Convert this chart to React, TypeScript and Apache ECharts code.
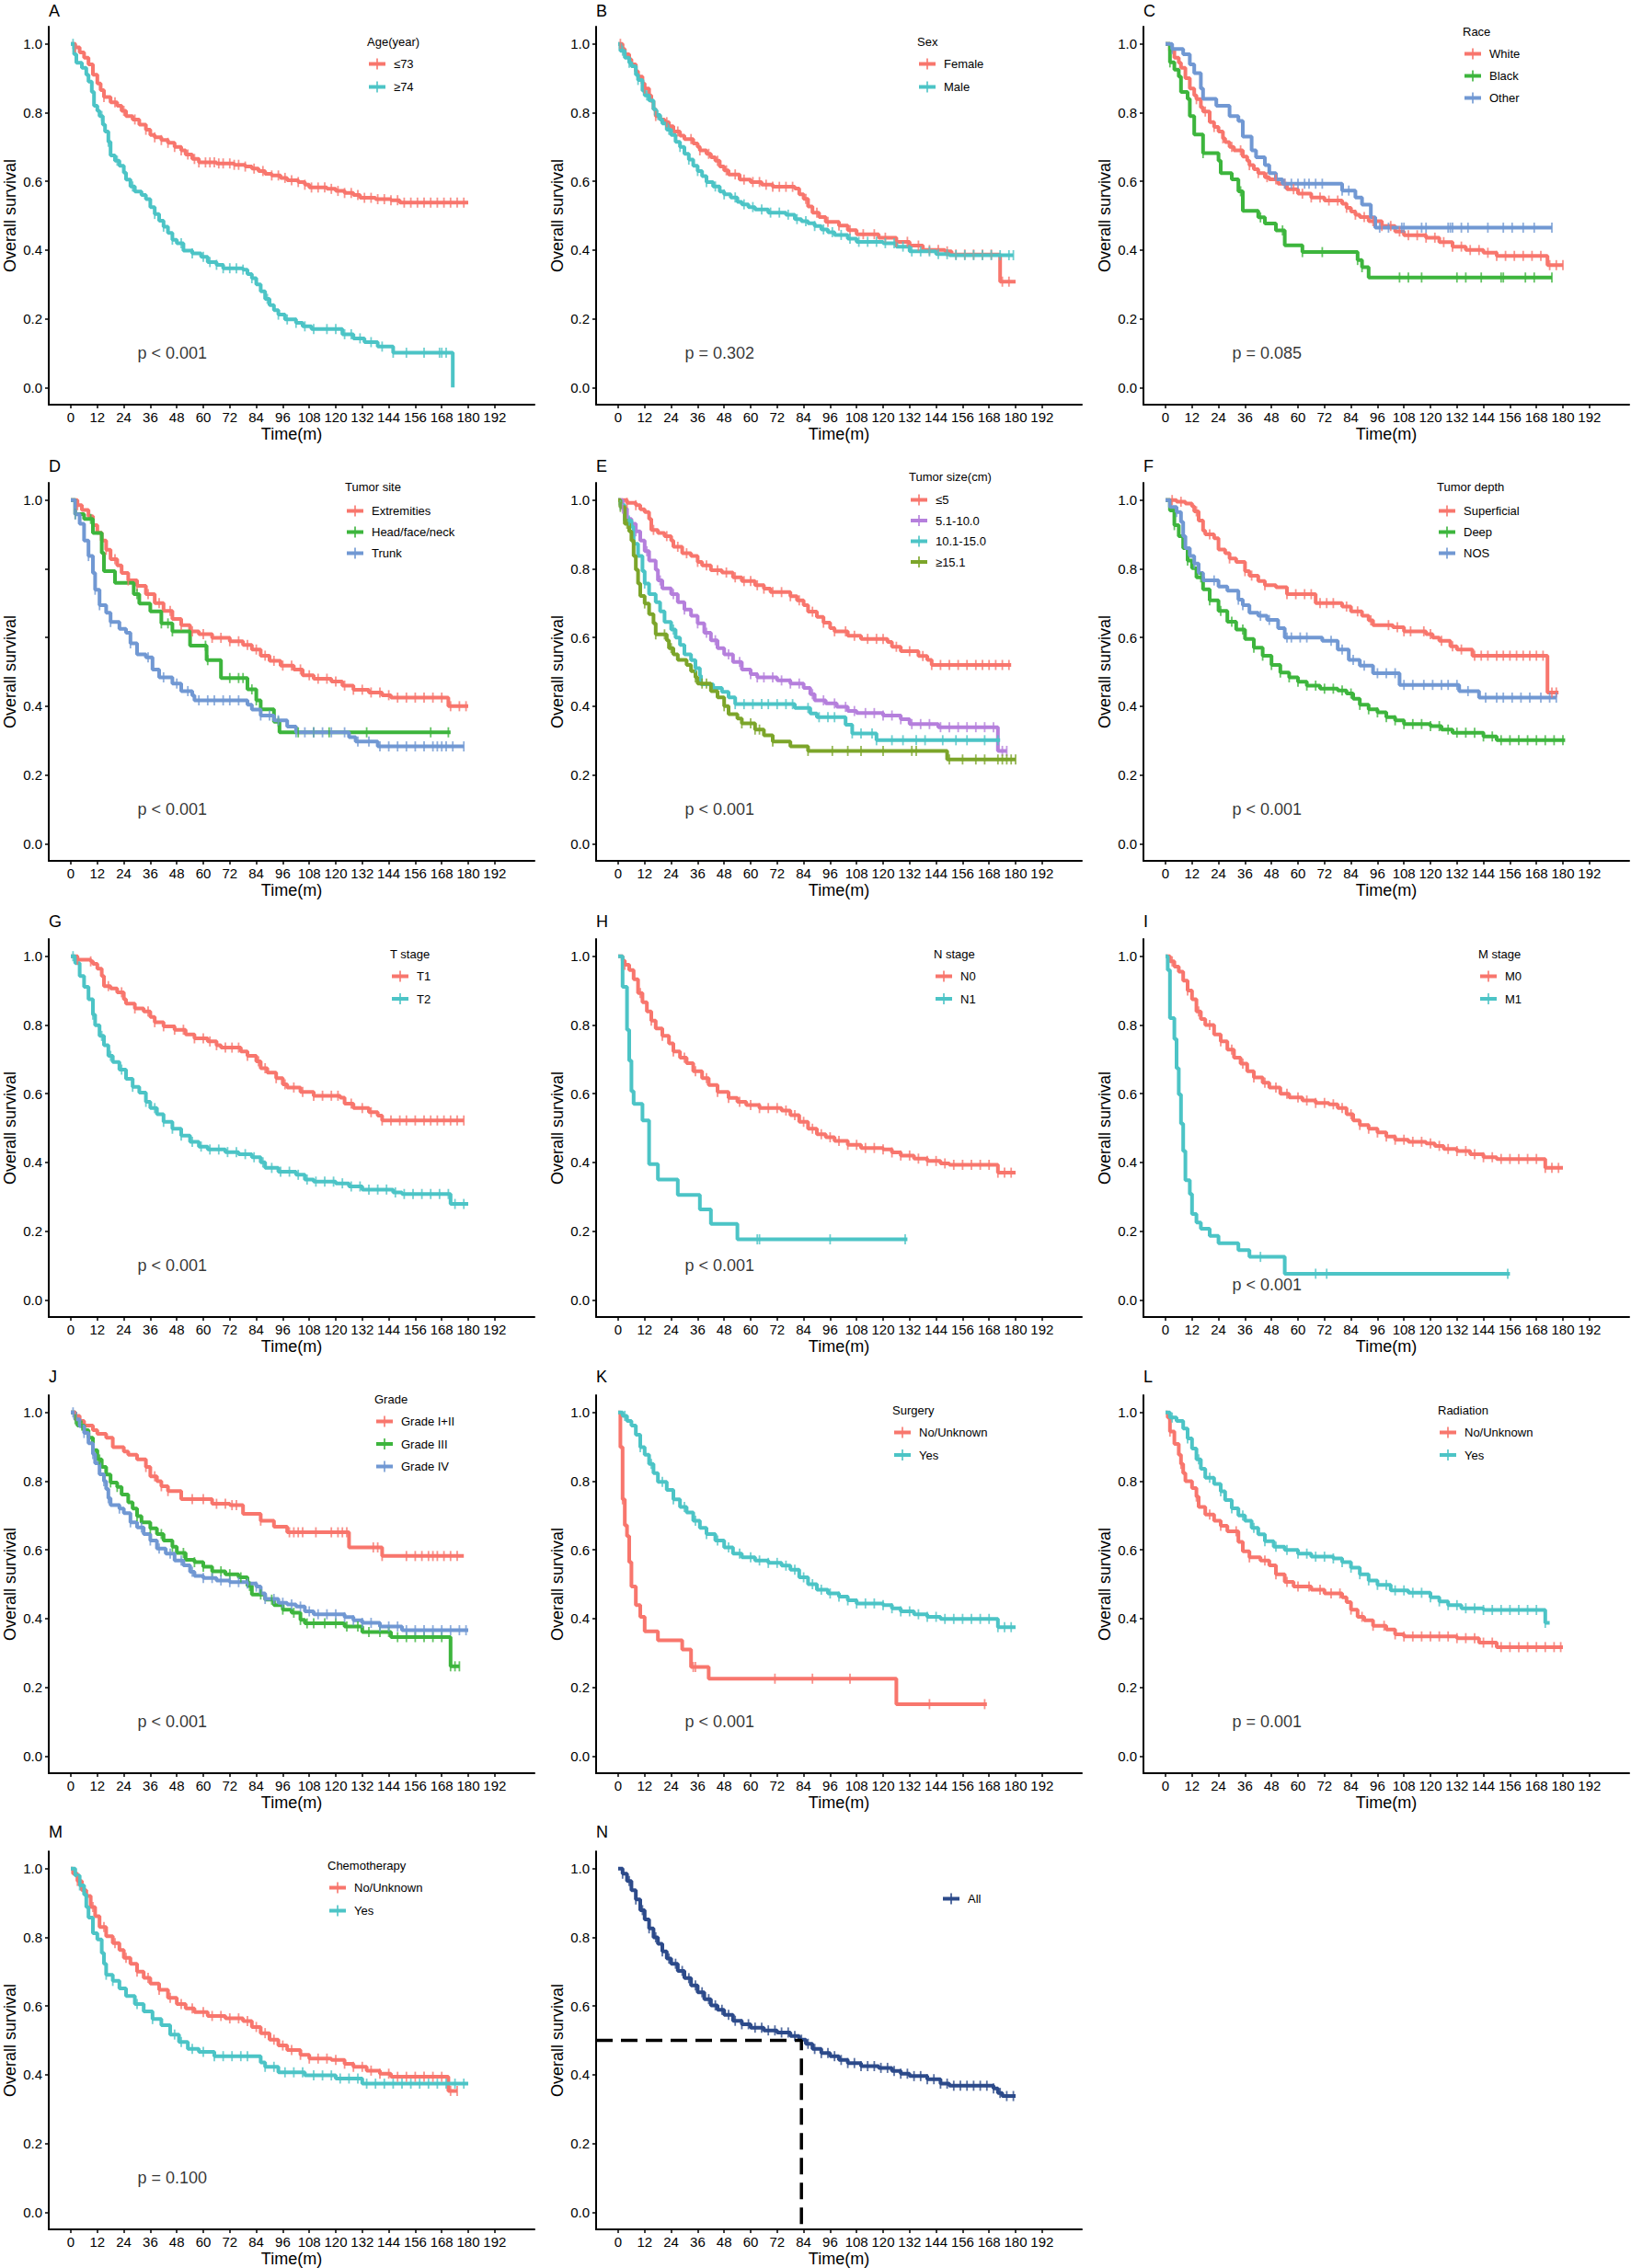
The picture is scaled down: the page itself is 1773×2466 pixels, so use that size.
import React, { useEffect, useRef } from "react";
import * as echarts from "echarts";

type Pt = [number, number];

// ---------- axis ticks ----------
const X_TICKS = [0, 12, 24, 36, 48, 60, 72, 84, 96, 108, 120, 132, 144, 156, 168, 180, 192];
const Y_TICKS = [0, 0.2, 0.4, 0.6, 0.8, 1.0];
const Y_TICKS_D = [0, 0.2, 0.4, 1.0];

// ---------- A: Age ----------
const ageLE73: Pt[] = [[0,1],[2,0.99],[4,0.975],[6,0.96],[8,0.94],[10,0.91],[12,0.885],[13.5,0.865],[15,0.845],[18,0.83],[21,0.82],[23,0.805],[25,0.79],[28,0.78],[31,0.765],[34,0.75],[36,0.735],[38,0.728],[41,0.72],[44,0.712],[47,0.7],[50,0.69],[52,0.678],[55,0.665],[58,0.655],[66,0.652],[74,0.648],[79,0.643],[82,0.637],[85,0.63],[88,0.622],[91,0.617],[95,0.61],[98,0.603],[103,0.598],[106,0.59],[108,0.582],[116,0.578],[120,0.572],[124,0.566],[128,0.56],[131,0.552],[138,0.548],[145,0.545],[149,0.538],[180,0.538]];
const ageGE74: Pt[] = [[0,1],[1.5,0.97],[2.5,0.945],[5,0.93],[7,0.91],[8,0.89],[9.5,0.86],[10.5,0.82],[12,0.805],[13,0.79],[14.5,0.765],[15.5,0.745],[17,0.715],[18,0.675],[20,0.66],[22,0.645],[24,0.625],[25,0.605],[27,0.585],[29,0.57],[32,0.56],[34,0.548],[36,0.525],[38,0.505],[40,0.485],[42,0.468],[44,0.45],[46,0.43],[48,0.42],[51,0.398],[55,0.39],[59,0.38],[62,0.365],[66,0.357],[69,0.347],[78,0.343],[80,0.33],[82,0.318],[84,0.3],[86,0.28],[88,0.258],[90,0.24],[92,0.225],[94,0.212],[97,0.198],[102,0.188],[105,0.178],[109,0.17],[123,0.155],[128,0.143],[133,0.132],[139,0.119],[146,0.101],[173,0]];
const censorAgeLE73 = [2,15,20,24,29,34,38,41,44,47,50,53,56,58,61,63,65,67,69,72,74,76,79,83,87,91,94,97,100,103,106,109,112,115,118,121,124,127,130,133,136,139,142,145,148,151,154,157,160,163,166,169,172,175,178];
const censorAgeGE74 = [1,14,17,21,28,38,42,46,50,55,60,63,66,69,72,75,78,82,89,94,98,102,106,110,116,120,124,127,131,136,141,146,152,160,167,168,170];

// ---------- B: Sex ----------
const sexFemale: Pt[] = [[0,1],[2,0.985],[3,0.97],[5,0.955],[6,0.94],[8,0.92],[9,0.905],[11,0.885],[12,0.87],[14,0.85],[15,0.833],[16,0.81],[17,0.79],[19,0.78],[21,0.772],[23,0.76],[25,0.745],[28,0.733],[30,0.723],[34,0.71],[36,0.7],[37,0.69],[40,0.68],[42,0.67],[44,0.66],[46,0.643],[48,0.632],[50,0.62],[55,0.605],[60,0.598],[65,0.59],[70,0.584],[80,0.579],[82,0.5625],[84,0.549],[86,0.527],[88,0.509],[91,0.496],[94,0.482],[100,0.471],[104,0.458],[108,0.446],[118,0.436],[126,0.424],[132,0.413],[138,0.4],[148,0.396],[151,0.387],[173,0.308],[180,0.308]];
const sexMale: Pt[] = [[0,1],[1,0.98],[3,0.96],[5,0.945],[6,0.935],[8,0.91],[9,0.895],[11,0.864],[12,0.85],[14,0.835],[16,0.81],[17,0.793],[19,0.78],[20,0.768],[22,0.75],[24,0.735],[26,0.715],[28,0.7],[30,0.68],[32,0.663],[34,0.645],[36,0.63],[38,0.615],[40,0.598],[43,0.585],[46,0.57],[48,0.562],[51,0.553],[54,0.54],[56,0.533],[59,0.525],[62,0.518],[68,0.509],[76,0.503],[80,0.49],[83,0.484],[86,0.478],[89,0.47],[92,0.46],[95,0.452],[98,0.444],[104,0.433],[108,0.424],[120,0.42],[126,0.41],[132,0.396],[144,0.388],[150,0.385],[179,0.385]];
const censorFemale = [1,12,17,22,27,33,37,41,45,49,53,57,61,64,67,70,73,76,79,85,90,95,100,105,111,116,121,126,131,136,141,145,149,153,157,161,165,169,174,177];
const censorMale = [2,5,9,13,18,23,28,32,36,40,44,48,53,57,61,65,69,73,77,81,85,89,93,97,101,105,109,113,117,121,125,129,133,137,141,145,149,153,157,161,165,169,173,177,179];

// ---------- C: Race ----------
const raceWhite: Pt[] = [[0,1],[2,0.98],[4,0.96],[6,0.945],[7,0.93],[9,0.9],[11,0.87],[13,0.85],[14,0.839],[16,0.815],[17,0.803],[20,0.772],[22,0.758],[24,0.745],[26,0.725],[27,0.714],[29,0.7],[31,0.69],[35,0.672],[37,0.66],[38,0.647],[40,0.635],[42,0.624],[45,0.612],[47,0.606],[51,0.593],[55,0.577],[60,0.564],[66,0.553],[72,0.544],[80,0.535],[82,0.523],[84,0.512],[86,0.503],[88,0.496],[92,0.484],[98,0.47],[104,0.454],[108,0.443],[118,0.436],[124,0.423],[130,0.41],[136,0.4],[144,0.392],[150,0.383],[173,0.356],[180,0.356]];
const raceBlack: Pt[] = [[0,1],[2,0.946],[4,0.925],[6,0.905],[7,0.86],[10,0.84],[11,0.79],[13,0.736],[17,0.682],[24,0.66],[25,0.624],[30,0.606],[33,0.571],[35,0.514],[42,0.495],[45,0.477],[50,0.457],[54,0.414],[62,0.394],[87,0.371],[89,0.35],[92,0.32],[175,0.32]];
const raceOther: Pt[] = [[0,1],[3,0.985],[8,0.97],[11,0.94],[13,0.915],[16,0.87],[17,0.84],[23,0.82],[29,0.79],[33,0.776],[35,0.73],[39,0.69],[41,0.67],[45,0.647],[47,0.624],[50,0.606],[53,0.593],[80,0.573],[86,0.553],[89,0.532],[93,0.495],[95,0.465],[175,0.465]];
const censorWhite = [14,18,22,26,30,34,38,42,46,50,54,58,62,66,70,74,78,82,86,90,94,98,102,106,110,114,118,122,126,130,134,138,142,146,150,154,158,162,166,170,174,177,180];
const censorBlack = [2,17,34,43,53,62,71,87,89,106,110,116,132,136,143,152,153,163,167,175];
const censorOther = [3,54,57,60,63,65,68,71,80,83,97,101,107,108,116,118,128,129,130,134,137,146,153,157,162,167,175];

// ---------- D: Tumor site ----------
const siteExtremities: Pt[] = [[0,1],[3,0.985],[5,0.971],[8,0.953],[10,0.927],[12,0.905],[14,0.882],[16,0.855],[18,0.828],[21,0.81],[23,0.788],[26,0.766],[30,0.75],[34,0.726],[38,0.7],[42,0.677],[46,0.654],[50,0.636],[54,0.618],[58,0.61],[64,0.599],[72,0.589],[78,0.578],[82,0.565],[86,0.547],[90,0.532],[95,0.518],[101,0.507],[105,0.49],[110,0.48],[118,0.472],[123,0.46],[128,0.448],[135,0.44],[141,0.432],[145,0.425],[171,0.4],[180,0.4]];
const siteHead: Pt[] = [[0,1],[2,0.959],[6,0.945],[10,0.904],[14,0.846],[15,0.793],[20,0.759],[28.5,0.726],[31,0.699],[36,0.676],[41,0.641],[46,0.618],[54,0.576],[61.5,0.534],[68,0.482],[80,0.449],[84,0.417],[86,0.391],[92,0.355],[94.5,0.324],[172,0.324]];
const siteTrunk: Pt[] = [[0,1],[2,0.958],[4,0.931],[6,0.882],[8,0.837],[10,0.788],[11,0.739],[13,0.694],[16,0.672],[18,0.645],[22,0.625],[25,0.614],[27,0.583],[30,0.551],[34,0.542],[37,0.507],[40,0.484],[46,0.466],[50,0.444],[55,0.431],[56,0.417],[80,0.404],[82,0.39],[86,0.373],[92,0.359],[98,0.341],[102,0.324],[126,0.31],[129,0.297],[139,0.283],[178,0.283]];
const censorExtremities = [3,16,20,26,30,35,40,45,50,55,60,64,68,72,76,80,84,88,92,96,100,104,108,112,116,120,124,128,132,136,140,144,148,152,156,160,164,168,172,176,179];
const censorHead = [2,9,30,41,44,46,61,62,72,76,78,82,84,94,103,110,117,134,163,171];
const censorTrunk = [2,8,11,13,18,27,35,42,48,53,58,62,65,69,72,76,86,90,94,102,106,110,114,118,124,130,135,140,144,148,152,156,160,164,166,168,170,173,178];

// ---------- E: Tumor size ----------
const sizeLE5: Pt[] = [[0,1],[4,0.992],[8,0.985],[10,0.973],[12,0.965],[14,0.945],[15,0.913],[18,0.904],[21,0.895],[24,0.882],[25,0.864],[29,0.845],[33,0.837],[36,0.82],[38,0.81],[42,0.796],[47,0.789],[52,0.775],[56,0.764],[62,0.752],[66,0.742],[69,0.732],[78,0.72],[81,0.708],[84,0.694],[86,0.675],[90,0.66],[93,0.643],[96,0.627],[98,0.618],[104,0.605],[110,0.596],[122,0.587],[124,0.573],[128,0.56],[136,0.546],[140,0.535],[142,0.52],[178,0.52]];
const size5to10: Pt[] = [[0,1],[2,0.975],[4,0.945],[6,0.931],[8,0.909],[10,0.882],[12,0.851],[14,0.824],[17,0.797],[18,0.766],[20,0.743],[24,0.726],[27,0.703],[30,0.681],[33,0.663],[36,0.641],[39,0.614],[42,0.592],[45,0.569],[48,0.551],[52,0.529],[56,0.507],[60,0.493],[63,0.484],[72,0.475],[78,0.466],[84,0.453],[87,0.435],[89,0.417],[94,0.408],[99,0.398],[104,0.386],[108,0.38],[120,0.373],[128,0.362],[132,0.348],[145,0.339],[172,0.27],[176,0.27]];
const size10to15: Pt[] = [[0,1],[1,0.985],[3,0.94],[6,0.922],[7,0.873],[9,0.837],[11,0.793],[12,0.757],[14,0.726],[17,0.703],[19,0.676],[21,0.645],[24,0.623],[26,0.6],[28,0.578],[30,0.551],[33,0.534],[35,0.511],[37,0.489],[37.5,0.464],[43,0.453],[47,0.442],[50,0.426],[53,0.406],[80,0.395],[87,0.379],[90,0.368],[103,0.346],[106,0.321],[117,0.301],[173,0.301]];
const sizeGE15: Pt[] = [[0,1],[1,0.98],[3,0.931],[5,0.909],[6,0.882],[7,0.837],[8,0.797],[9,0.757],[10,0.721],[12,0.699],[14,0.668],[16,0.641],[17,0.609],[22,0.592],[23,0.569],[25,0.551],[27,0.535],[31,0.52],[33,0.502],[35,0.484],[36,0.466],[42,0.444],[45,0.426],[48,0.4],[50,0.377],[54,0.364],[56,0.35],[62,0.332],[66,0.315],[70,0.297],[78,0.283],[86,0.27],[149,0.245],[180,0.245]];
const censorLE5 = [4,8,16,22,27,31,36,40,45,49,53,57,60,63,66,70,74,78,82,88,93,98,103,107,113,117,120,126,132,138,142,146,150,154,158,162,165,168,171,174,177];
const censor5to10 = [2,8,13,19,25,30,36,40,44,50,55,60,63,66,70,74,78,82,88,93,98,103,107,112,116,120,124,128,133,137,141,146,150,154,158,162,166,170,174,176];
const censor10to15 = [1,5,12,25,35,37,53,57,61,65,68,72,76,79,86,91,95,98,106,110,115,117,124,129,135,139,147,153,158,166,172];
const censorGE15 = [1,4,12,17,21,24,35,38,40,48,56,60,62,64,70,86,97,104,110,120,133,135,150,156,162,166,172,174,176,178,180];

// ---------- F: Tumor depth ----------
const depthSuperficial: Pt[] = [[0,1],[5,0.995],[9,0.99],[12,0.982],[13,0.967],[15,0.94],[17,0.911],[18,0.9],[22,0.889],[24,0.856],[27,0.845],[29,0.83],[32,0.82],[36,0.793],[38,0.78],[42,0.764],[45,0.752],[50,0.746],[55,0.726],[68,0.7],[80,0.69],[84,0.676],[89,0.663],[92,0.65],[94,0.636],[103,0.63],[108,0.618],[118,0.61],[121,0.6],[124,0.59],[129,0.574],[132,0.565],[139,0.547],[173,0.44],[178,0.44]];
const depthDeep: Pt[] = [[0,1],[2,0.97],[4,0.927],[6,0.895],[8,0.86],[10,0.824],[12,0.802],[14,0.775],[17,0.74],[20,0.708],[24,0.677],[28,0.646],[32,0.623],[36,0.596],[40,0.57],[44,0.547],[48,0.52],[52,0.498],[56,0.484],[60,0.471],[64,0.46],[70,0.451],[78,0.446],[82,0.437],[85,0.422],[88,0.404],[92,0.391],[96,0.382],[100,0.368],[104,0.359],[108,0.348],[120,0.342],[125,0.332],[130,0.323],[144,0.312],[150,0.301],[181,0.301]];
const depthNOS: Pt[] = [[0,1],[2,0.98],[5,0.965],[7,0.936],[8,0.895],[9,0.86],[11,0.837],[13,0.815],[15,0.788],[17,0.766],[24,0.748],[28,0.736],[33,0.71],[35,0.694],[38,0.672],[42,0.663],[46,0.651],[51,0.627],[54,0.6],[71,0.59],[78,0.565],[83,0.535],[88,0.518],[94,0.496],[106,0.462],[133,0.444],[142,0.425],[177,0.425]];
const censorSuperficial = [3,7,14,20,29,36,39,45,55,59,63,66,70,73,76,82,87,93,101,105,108,111,117,120,125,130,134,140,143,146,150,153,156,159,162,165,168,171,175,177];
const censorDeep = [4,10,16,20,25,30,35,40,44,48,52,56,60,64,68,72,76,80,84,88,92,96,100,104,108,112,116,120,124,128,132,136,140,144,148,152,156,160,164,168,172,176,180];
const censorNOS = [5,13,22,33,35,43,47,55,57,61,64,75,80,85,90,96,100,104,108,112,117,121,125,128,132,137,145,150,153,157,161,165,170,174,177];

// ---------- G: T stage ----------
const stageT1: Pt[] = [[0,1],[3,0.99],[9,0.985],[10,0.978],[12,0.964],[14,0.942],[15,0.913],[18,0.906],[21,0.895],[24,0.875],[25,0.862],[29,0.848],[33,0.839],[36,0.823],[38,0.808],[42,0.796],[47,0.786],[52,0.772],[56,0.761],[62,0.752],[66,0.741],[68,0.734],[77,0.723],[80,0.71],[84,0.694],[86,0.674],[89,0.661],[93,0.645],[96,0.627],[98,0.618],[104,0.605],[110,0.594],[122,0.588],[124,0.571],[128,0.558],[135,0.546],[139,0.536],[141,0.522],[178,0.522]];
const stageT2: Pt[] = [[0,1],[2,0.98],[4,0.942],[6,0.911],[8,0.875],[10,0.83],[11,0.799],[13,0.768],[15,0.741],[17,0.71],[19,0.692],[22,0.67],[25,0.643],[28,0.62],[31,0.603],[34,0.576],[36,0.558],[39,0.54],[42,0.518],[46,0.498],[50,0.478],[54,0.46],[58,0.446],[62,0.4375],[70,0.43],[76,0.424],[82,0.415],[86,0.4],[88,0.384],[94,0.373],[102,0.364],[106,0.35],[110,0.344],[120,0.339],[126,0.33],[132,0.321],[146,0.3125],[150,0.308],[172,0.279],[180,0.279]];
const censorT1 = [3,9,17,23,29,35,38,42,47,51,56,60,63,66,70,73,76,80,85,88,93,97,101,105,110,114,118,121,127,132,136,141,145,149,152,156,160,163,166,169,172,175,178];
const censorT2 = [1,10,14,18,23,28,34,38,42,46,50,55,59,63,67,71,75,79,83,87,91,95,99,103,107,111,115,119,123,127,131,135,139,143,147,151,155,159,163,167,171,174,178];

// ---------- H: N stage ----------
const stageN0: Pt[] = [[0,1],[2,0.987],[3,0.975],[5,0.96],[7,0.933],[9,0.893],[11,0.866],[13,0.839],[15,0.8125],[17,0.79],[20,0.768],[23,0.746],[25,0.723],[28,0.705],[31,0.689],[34,0.665],[38,0.645],[41,0.625],[45,0.605],[50,0.5875],[54,0.576],[58,0.567],[64,0.558],[74,0.551],[78,0.5375],[82,0.518],[86,0.498],[90,0.482],[94,0.473],[98,0.4625],[104,0.451],[110,0.442],[120,0.4375],[124,0.429],[128,0.42],[134,0.411],[140,0.404],[146,0.397],[150,0.393],[172,0.37],[180,0.37]];
const stageN1: Pt[] = [[0,1],[2,0.911],[4,0.786],[5,0.696],[6,0.607],[7,0.57],[11,0.522],[14,0.395],[18,0.35],[27,0.305],[37,0.263],[42,0.221],[54,0.176],[131,0.176]];
const censorStageDense = [3,10,15,20,25,30,35,40,45,50,55,60,64,68,72,76,80,84,88,92,96,100,104,108,112,116,120,124,128,132,136,140,144,148,152,156,160,164,168,172,175,178];
const censorN1 = [63,64,96,130];

// ---------- I: M stage ----------
const stageM0: Pt[] = [[0,1],[2,0.985],[4,0.97],[6,0.955],[8,0.929],[10,0.9],[12,0.875],[14,0.839],[16,0.817],[18,0.8],[22,0.772],[25,0.752],[28,0.728],[31,0.705],[34,0.6875],[37,0.665],[40,0.647],[44,0.632],[47,0.618],[52,0.6],[56,0.589],[62,0.58],[68,0.573],[74,0.569],[78,0.558],[82,0.54],[85,0.522],[88,0.509],[92,0.498],[96,0.487],[100,0.475],[104,0.466],[110,0.46],[118,0.455],[122,0.448],[126,0.439],[132,0.433],[138,0.424],[144,0.415],[150,0.41],[172,0.384],[180,0.384]];
const stageM1: Pt[] = [[0,1],[1,0.96],[2,0.82],[4,0.759],[5,0.674],[6,0.598],[7,0.5125],[8,0.433],[9,0.348],[11,0.308],[12,0.25],[14,0.225],[16,0.207],[20,0.186],[24,0.165],[33,0.145],[38,0.125],[54,0.076],[156,0.076]];
const censorM1 = [43,68,73,155];

// ---------- J: Grade ----------
const gradeI_II: Pt[] = [[0,1],[2,0.99],[4,0.975],[6,0.962],[10,0.948],[12,0.9375],[16,0.926],[19,0.899],[24,0.886],[26,0.877],[30,0.863],[34,0.841],[36,0.814],[39,0.8],[41,0.785],[44,0.771],[50,0.7475],[64,0.734],[72,0.73],[78,0.705],[86,0.685],[92,0.667],[98,0.651],[126,0.607],[141,0.582],[178,0.582]];
const gradeIII: Pt[] = [[0,1],[2,0.98],[3,0.962],[6,0.948],[8,0.926],[10,0.89],[12,0.863],[14,0.841],[16,0.819],[18,0.796],[21,0.783],[23,0.761],[26,0.738],[28,0.72],[30,0.698],[32,0.68],[36,0.6625],[39,0.646],[42,0.627],[46,0.609],[48,0.591],[52,0.571],[56,0.564],[60,0.551],[64,0.5375],[70,0.529],[76,0.52],[80,0.495],[82,0.47],[88,0.455],[92,0.439],[96,0.426],[100,0.417],[104,0.396],[106,0.386],[124,0.377],[132,0.361],[145,0.346],[172,0.261],[176,0.261]];
const gradeIV: Pt[] = [[0,1],[2,0.98],[4,0.96],[6,0.94],[8,0.91],[10,0.879],[11,0.852],[13,0.82],[15,0.8],[16,0.777],[17,0.75],[18,0.73],[22,0.72],[24,0.707],[27,0.68],[30,0.665],[33,0.646],[36,0.627],[39,0.604],[43,0.589],[47,0.569],[51,0.555],[54,0.536],[56,0.524],[60,0.518],[66,0.511],[72,0.506],[80,0.502],[84,0.493],[86,0.473],[88,0.457],[94,0.446],[98,0.441],[102,0.435],[106,0.421],[110,0.4125],[124,0.404],[128,0.395],[132,0.3875],[140,0.377],[150,0.366],[180,0.366]];
const censorGradeI_II = [2,34,38,41,44,55,60,66,70,73,75,86,99,101,103,105,111,118,121,123,125,137,139,141,152,156,159,162,164,166,169,172,175];
const censorGradeIII = [2,5,13,18,21,30,36,41,46,51,56,60,64,68,72,77,81,86,91,96,101,104,107,110,115,120,125,130,135,140,144,148,152,156,160,164,168,172,174,176];
const censorGradeIV = [1,6,10,15,17,22,27,32,36,40,45,50,55,60,64,68,72,76,80,84,88,92,96,100,104,108,112,116,120,124,128,132,136,140,144,148,152,156,160,164,168,172,176,179];

// ---------- K: Surgery ----------
const surgeryNo: Pt[] = [[0,1],[1,0.899],[2,0.747],[3,0.671],[4,0.64],[5,0.564],[6,0.493],[8,0.439],[10,0.405],[12,0.363],[18,0.337],[29,0.31],[33,0.259],[41,0.225],[126,0.151],[167,0.151]];
const surgeryYes: Pt[] = [[0,1],[2,0.99],[4,0.975],[6,0.962],[8,0.935],[10,0.899],[12,0.877],[14,0.85],[16,0.823],[18,0.798],[22,0.774],[25,0.747],[28,0.725],[31,0.709],[34,0.685],[37,0.664],[40,0.646],[44,0.627],[48,0.607],[52,0.589],[56,0.578],[62,0.569],[68,0.562],[74,0.554],[78,0.542],[82,0.52],[86,0.5],[90,0.484],[95,0.473],[100,0.464],[104,0.453],[108,0.444],[120,0.439],[124,0.43],[128,0.421],[134,0.4125],[140,0.405],[146,0.399],[172,0.375],[180,0.375]];
const censorSurgeryNo = [2,34,35,71,88,105,141,166];

// ---------- L: Radiation ----------
const radiationNo: Pt[] = [[0,1],[1,0.985],[2,0.944],[4,0.908],[6,0.877],[7,0.85],[8,0.823],[9,0.8],[12,0.78],[14,0.755],[15,0.725],[18,0.703],[22,0.685],[25,0.67],[28,0.654],[33,0.623],[35,0.596],[38,0.578],[43,0.569],[47,0.555],[50,0.529],[54,0.507],[58,0.493],[66,0.484],[72,0.473],[80,0.462],[82,0.448],[84,0.426],[87,0.405],[90,0.395],[94,0.379],[100,0.368],[104,0.354],[108,0.348],[132,0.343],[142,0.33],[150,0.317],[180,0.317]];
const radiationYes: Pt[] = [[0,1],[2,0.985],[5,0.975],[8,0.953],[10,0.924],[12,0.895],[14,0.863],[16,0.836],[18,0.81],[22,0.792],[25,0.77],[27,0.745],[30,0.721],[33,0.7],[36,0.685],[39,0.664],[42,0.645],[45,0.625],[49,0.609],[54,0.6],[60,0.589],[66,0.58],[76,0.575],[80,0.564],[84,0.548],[88,0.529],[92,0.511],[96,0.498],[102,0.482],[110,0.475],[120,0.462],[124,0.45],[128,0.439],[134,0.43],[144,0.425],[172,0.3875],[174,0.3875]];
const censorRadiationNo = [2,7,14,20,25,32,38,45,50,55,60,65,70,75,79,84,89,94,99,104,108,112,116,120,124,128,132,136,140,144,148,152,156,160,164,168,172,176,179];

// ---------- M: Chemotherapy ----------
const chemoNo: Pt[] = [[0,1],[1,0.985],[3,0.964],[5,0.937],[7,0.92],[9,0.888],[11,0.861],[13,0.83],[16,0.803],[19,0.783],[22,0.763],[24,0.74],[27,0.723],[30,0.7],[33,0.682],[36,0.665],[40,0.647],[44,0.624],[48,0.606],[52,0.593],[56,0.582],[62,0.571],[70,0.564],[78,0.556],[82,0.539],[86,0.521],[90,0.502],[94,0.485],[98,0.472],[104,0.458],[108,0.447],[118,0.443],[124,0.432],[128,0.423],[134,0.412],[140,0.403],[145,0.394],[171,0.353],[175,0.353]];
const chemoYes: Pt[] = [[0,1],[2,0.98],[4,0.951],[6,0.924],[7,0.888],[8,0.857],[10,0.812],[12,0.794],[14,0.754],[15,0.723],[16,0.691],[19,0.673],[22,0.651],[25,0.629],[29,0.606],[33,0.584],[37,0.562],[41,0.544],[45,0.517],[49,0.495],[53,0.475],[58,0.4665],[65,0.454],[86,0.436],[88,0.423],[94,0.407],[106,0.398],[120,0.389],[132,0.374],[180,0.374]];
const censorChemoYes = [4,16,19,30,37,47,50,55,60,65,69,73,77,80,88,92,97,101,105,110,114,118,122,126,130,134,138,142,146,150,154,158,162,166,170,174,178];

// ---------- N: All ----------
const allPatients: Pt[] = [[0,1],[2,0.985],[4,0.964],[6,0.937],[8,0.91],[10,0.879],[12,0.852],[14,0.826],[16,0.8],[18,0.781],[20,0.759],[22,0.738],[24,0.723],[27,0.702],[30,0.681],[33,0.66],[36,0.64],[39,0.62],[42,0.602],[45,0.589],[48,0.574],[52,0.557],[56,0.547],[60,0.537],[66,0.529],[72,0.523],[78,0.5125],[82,0.502],[85,0.49],[88,0.475],[92,0.463],[96,0.454],[100,0.443],[104,0.434],[110,0.425],[118,0.42],[124,0.411],[128,0.403],[132,0.396],[140,0.387],[146,0.374],[150,0.368],[170,0.36],[172,0.347],[174,0.338],[180,0.338]];
const censorAll = [2,5,8,11,14,17,20,23,26,29,32,35,38,41,44,47,50,53,56,59,62,65,68,71,74,77,80,83,86,89,92,95,98,101,104,107,110,113,116,119,122,125,128,131,134,137,140,143,146,149,152,155,158,161,164,167,170,173,176,179];
const medianSurvival = 83;
const medianLevel = 0.5;

// ---------- colours & layout ----------
const RED = "#F8766D";
const CYAN = "#4CC4C6";
const GREEN = "#3DB53D";
const BLUE = "#7198D3";
const PURPLE = "#B57FDC";
const OLIVE = "#7CA52A";
const NAVY = "#2C4A8A";

const FONT = '"Liberation Sans", Arial, Helvetica, sans-serif';
const COL_LEFT = [53, 648, 1243];
const PLOT_W = 528;
const PLOT_H = 411;
const ROW_STEP = 496;
const PLOT_TOP = 29;
const TEXT_ROW = 495;
const CROSS_ICON = "path://M0,4H18V8H0Z M8.2,0H9.8V12H8.2Z";

interface Group { name: string; color: string; curve: Pt[]; censor: number[] }
interface Panel {
  letter: string;
  legendTitle: string;
  groups: Group[];
  pText?: string;
  pY?: number;
  yLabels?: number[];
  lg: { x: number; titleY: number; itemY: number; step: number };
  median?: boolean;
}

const PANELS: Panel[] = [
  { letter: "A", legendTitle: "Age(year)", pText: "p < 0.001", pY: 0.1, lg: { x: 401, titleY: 45, itemY: 69, step: 24 },
    groups: [ { name: "≤73", color: RED, curve: ageLE73, censor: censorAgeLE73 }, { name: "≥74", color: CYAN, curve: ageGE74, censor: censorAgeGE74 } ] },
  { letter: "B", legendTitle: "Sex", pText: "p = 0.302", pY: 0.1, lg: { x: 999, titleY: 45, itemY: 69, step: 24 },
    groups: [ { name: "Female", color: RED, curve: sexFemale, censor: censorFemale }, { name: "Male", color: CYAN, curve: sexMale, censor: censorMale } ] },
  { letter: "C", legendTitle: "Race", pText: "p = 0.085", pY: 0.1, lg: { x: 1592, titleY: 34, itemY: 58, step: 23 },
    groups: [ { name: "White", color: RED, curve: raceWhite, censor: censorWhite }, { name: "Black", color: GREEN, curve: raceBlack, censor: censorBlack }, { name: "Other", color: BLUE, curve: raceOther, censor: censorOther } ] },
  { letter: "D", legendTitle: "Tumor site", pText: "p < 0.001", pY: 0.1, yLabels: Y_TICKS_D, lg: { x: 377, titleY: 34, itemY: 60, step: 22 },
    groups: [ { name: "Extremities", color: RED, curve: siteExtremities, censor: censorExtremities }, { name: "Head/face/neck", color: GREEN, curve: siteHead, censor: censorHead }, { name: "Trunk", color: BLUE, curve: siteTrunk, censor: censorTrunk } ] },
  { letter: "E", legendTitle: "Tumor size(cm)", pText: "p < 0.001", pY: 0.1, lg: { x: 990, titleY: 23, itemY: 48, step: 21.5 },
    groups: [ { name: "≤5", color: RED, curve: sizeLE5, censor: censorLE5 }, { name: "5.1-10.0", color: PURPLE, curve: size5to10, censor: censor5to10 }, { name: "10.1-15.0", color: CYAN, curve: size10to15, censor: censor10to15 }, { name: "≥15.1", color: OLIVE, curve: sizeGE15, censor: censorGE15 } ] },
  { letter: "F", legendTitle: "Tumor depth", pText: "p < 0.001", pY: 0.1, lg: { x: 1564, titleY: 34, itemY: 60, step: 22 },
    groups: [ { name: "Superficial", color: RED, curve: depthSuperficial, censor: censorSuperficial }, { name: "Deep", color: GREEN, curve: depthDeep, censor: censorDeep }, { name: "NOS", color: BLUE, curve: depthNOS, censor: censorNOS } ] },
  { letter: "G", legendTitle: "T stage", pText: "p < 0.001", pY: 0.1, lg: { x: 426, titleY: 47, itemY: 71, step: 23.5 },
    groups: [ { name: "T1", color: RED, curve: stageT1, censor: censorT1 }, { name: "T2", color: CYAN, curve: stageT2, censor: censorT2 } ] },
  { letter: "H", legendTitle: "N stage", pText: "p < 0.001", pY: 0.1, lg: { x: 1017, titleY: 47, itemY: 71, step: 23.5 },
    groups: [ { name: "N0", color: RED, curve: stageN0, censor: censorStageDense }, { name: "N1", color: CYAN, curve: stageN1, censor: censorN1 } ] },
  { letter: "I", legendTitle: "M stage", pText: "p < 0.001", pY: 0.045, lg: { x: 1609, titleY: 47, itemY: 71, step: 23.5 },
    groups: [ { name: "M0", color: RED, curve: stageM0, censor: censorStageDense }, { name: "M1", color: CYAN, curve: stageM1, censor: censorM1 } ] },
  { letter: "J", legendTitle: "Grade", pText: "p < 0.001", pY: 0.1, lg: { x: 409, titleY: 36, itemY: 60, step: 23.5 },
    groups: [ { name: "Grade I+II", color: RED, curve: gradeI_II, censor: censorGradeI_II }, { name: "Grade III", color: GREEN, curve: gradeIII, censor: censorGradeIII }, { name: "Grade IV", color: BLUE, curve: gradeIV, censor: censorGradeIV } ] },
  { letter: "K", legendTitle: "Surgery", pText: "p < 0.001", pY: 0.1, lg: { x: 972, titleY: 48, itemY: 72, step: 23.5 },
    groups: [ { name: "No/Unknown", color: RED, curve: surgeryNo, censor: censorSurgeryNo }, { name: "Yes", color: CYAN, curve: surgeryYes, censor: censorStageDense } ] },
  { letter: "L", legendTitle: "Radiation", pText: "p = 0.001", pY: 0.1, lg: { x: 1565, titleY: 48, itemY: 72, step: 23.5 },
    groups: [ { name: "No/Unknown", color: RED, curve: radiationNo, censor: censorRadiationNo }, { name: "Yes", color: CYAN, curve: radiationYes, censor: censorStageDense } ] },
  { letter: "M", legendTitle: "Chemotherapy", pText: "p = 0.100", pY: 0.1, lg: { x: 358, titleY: 48, itemY: 72, step: 24 },
    groups: [ { name: "No/Unknown", color: RED, curve: chemoNo, censor: censorStageDense }, { name: "Yes", color: CYAN, curve: chemoYes, censor: censorChemoYes } ] },
  { letter: "N", legendTitle: "", lg: { x: 1025, titleY: 60, itemY: 84, step: 24 }, median: true,
    groups: [ { name: "All", color: NAVY, curve: allPatients, censor: censorAll } ] },
];

function stepAt(curve: Pt[], t: number): number {
  let v = curve[0][1];
  for (const [x, y] of curve) {
    if (x <= t) v = y;
    else break;
  }
  return v;
}

function buildOption() {
  const grid: any[] = [];
  const xAxis: any[] = [];
  const yAxis: any[] = [];
  const series: any[] = [];
  const legend: any[] = [];
  const title: any[] = [];

  PANELS.forEach((p, i) => {
    const col = i % 3;
    const row = Math.floor(i / 3);
    const rowTop = TEXT_ROW * row;
    grid.push({
      left: COL_LEFT[col], top: PLOT_TOP + ROW_STEP * row, width: PLOT_W, height: PLOT_H,
      containLabel: false, outerBoundsMode: "none",
    });
    xAxis.push({
      type: "value", gridIndex: i, min: -10, max: 210,
      name: "Time(m)", nameLocation: "middle", nameGap: 23,
      nameTextStyle: { fontSize: 18, color: "#000", fontFamily: FONT },
      axisLine: { show: true, onZero: false, lineStyle: { color: "#000", width: 2 } },
      axisTick: { show: true, customValues: X_TICKS, length: 4, lineStyle: { color: "#000", width: 1.5 } },
      axisLabel: { show: true, customValues: X_TICKS, fontSize: 15, color: "#000", fontFamily: FONT, margin: 6, formatter: (v: number) => String(v) },
      splitLine: { show: false },
    });
    yAxis.push({
      type: "value", gridIndex: i, min: -0.05, max: 1.05,
      name: "Overall survival", nameLocation: "middle", nameGap: 33,
      nameTextStyle: { fontSize: 18, color: "#000", fontFamily: FONT },
      axisLine: { show: true, onZero: false, lineStyle: { color: "#000", width: 2 } },
      axisTick: { show: true, customValues: Y_TICKS, length: 4, lineStyle: { color: "#000", width: 1.5 } },
      axisLabel: { show: true, customValues: p.yLabels || Y_TICKS, fontSize: 15, color: "#000", fontFamily: FONT, margin: 7, formatter: (v: number) => v.toFixed(1) },
      splitLine: { show: false },
    });

    p.groups.forEach((g) => {
      series.push({
        type: "line", name: g.name, xAxisIndex: i, yAxisIndex: i, data: g.curve, step: "end",
        symbol: "none", showSymbol: false, color: g.color,
        lineStyle: { color: g.color, width: 4 }, itemStyle: { color: g.color },
        silent: true, z: 3,
      });
      const last = g.curve[g.curve.length - 1][0];
      series.push({
        type: "scatter", name: g.name + " censored", xAxisIndex: i, yAxisIndex: i,
        data: g.censor.filter((t) => t <= last).map((t) => [t, stepAt(g.curve, t)]),
        symbol: "rect", symbolSize: [1.8, 11], itemStyle: { color: g.color },
        silent: true, z: 4,
      });
    });

    if (p.pText) {
      series.push({
        type: "scatter", name: "p-value " + p.letter, xAxisIndex: i, yAxisIndex: i,
        data: [[30, p.pY]], symbolSize: 1, itemStyle: { color: "rgba(0,0,0,0)" },
        label: { show: true, position: "right", distance: 0, formatter: p.pText, fontSize: 18, color: "#000", fontFamily: FONT },
        silent: true, z: 5,
      });
    }

    if (p.median) {
      series.push({
        type: "line", name: "median", xAxisIndex: i, yAxisIndex: i,
        data: [[-10, medianLevel], [medianSurvival, medianLevel], [medianSurvival, -0.05]],
        symbol: "none", showSymbol: false,
        lineStyle: { color: "#000", width: 3.5, type: [18, 9] },
        silent: true, z: 6,
      });
    }

    legend.push({
      orient: "vertical", left: p.lg.x, top: rowTop + p.lg.itemY - 6, padding: 0,
      itemWidth: 18, itemHeight: 12, itemGap: p.lg.step - 12, icon: CROSS_ICON,
      selectedMode: false,
      data: p.groups.map((g) => g.name),
      textStyle: { fontSize: 13, color: "#000", fontFamily: FONT, lineHeight: 12, padding: [0, 0, 0, 4] },
    });

    title.push({
      text: p.letter, left: COL_LEFT[col], top: rowTop + 3, padding: 0,
      textStyle: { fontSize: 18, fontWeight: "normal", color: "#000", fontFamily: FONT },
    });
    if (p.legendTitle) {
      title.push({
        text: p.legendTitle, left: p.lg.x - 2, top: rowTop + p.lg.titleY - 7, padding: 0,
        textStyle: { fontSize: 13, fontWeight: "normal", color: "#000", fontFamily: FONT, lineHeight: 14 },
      });
    }
  });

  return {
    animation: false,
    backgroundColor: "#fff",
    textStyle: { fontFamily: FONT },
    grid, xAxis, yAxis, series, legend, title,
  };
}

export default function App() {
  const ref = useRef<HTMLDivElement>(null);
  useEffect(() => {
    document.body.style.margin = "0";
    const chart = echarts.init(ref.current!, null, { renderer: "svg" });
    chart.setOption(buildOption() as any);
    return () => chart.dispose();
  }, []);
  return <div ref={ref} style={{ width: 1773, height: 2466 }} />;
}
